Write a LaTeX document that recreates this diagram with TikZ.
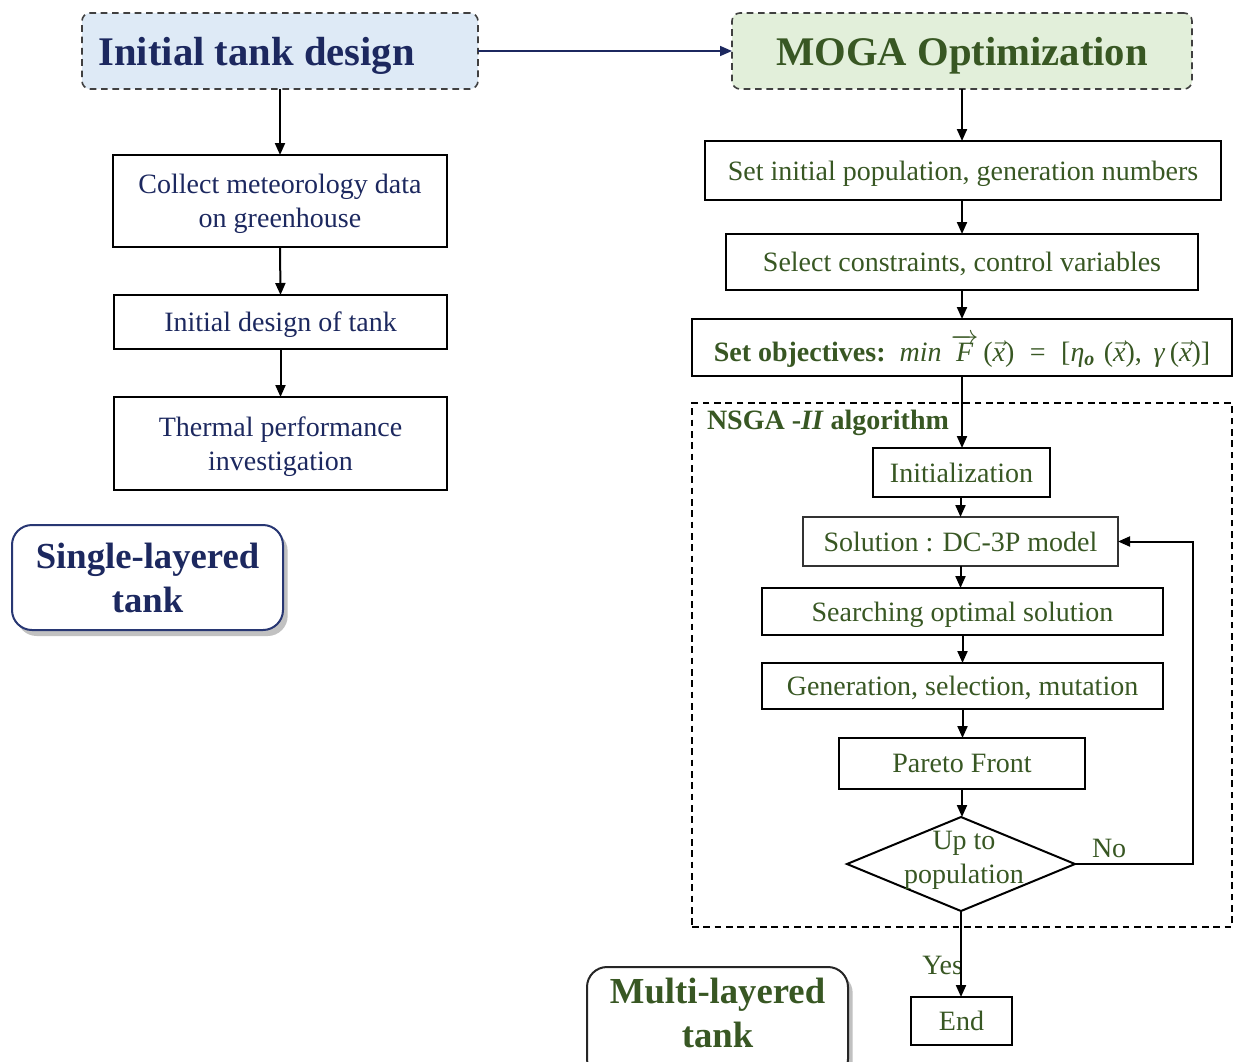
\documentclass[tikz,border=0pt]{standalone}
\usepackage{fontspec}
\setmainfont{Liberation Serif}
\usetikzlibrary{arrows.meta,shapes.geometric,shadows,calc}
\definecolor{navy}{RGB}{28,40,95}
\definecolor{dgreen}{RGB}{56,87,35}
\definecolor{lblue}{RGB}{222,234,246}
\definecolor{lgreen}{RGB}{226,239,218}
\definecolor{bordernavy}{RGB}{40,55,115}
\newcommand{\vx}{$\vec{\mbox{\itshape x}}$}
\begin{document}
\begin{tikzpicture}[x=0.75pt,y=-0.75pt,
 every node/.style={inner sep=0pt, outer sep=0pt},
 sz/.style 2 args={minimum width=#1*0.75pt, minimum height=#2*0.75pt},
 body/.style={font=\fontsize{21}{25.5}\selectfont},
 box/.style={draw=black, line width=1.5pt, body, align=center, text depth=0pt},
 lbox/.style={box, text=navy},
 rbox/.style={box, text=dgreen},
 title/.style={draw=black!75, dash pattern=on 5pt off 3.5pt, line width=1.2pt, rounded corners=6pt, text depth=0pt, font=\fontsize{30.5}{36}\selectfont\bfseries},
 flow/.style={line width=1.5pt, -{Triangle[length=9pt,width=7.5pt]}},
 tag/.style={rounded corners=15pt, line width=1.5pt, fill=white, drop shadow={shadow xshift=3.5pt, shadow yshift=-4.5pt, opacity=0.35, fill=black!70}, align=center, font=\fontsize{27.5}{33}\selectfont\bfseries},
 dashbox/.style={draw=black, line width=1.2pt, dash pattern=on 5pt off 3.5pt},
]
\useasboundingbox (0,0) rectangle (1234,1061);
\clip (0,0) rectangle (1234,1061);

% left column
\node[title, fill=lblue, text=navy, sz={396}{76}] (init) at (280,51) {Initial tank design\hspace*{35pt}};
\node[lbox, sz={334}{92}] (collect) at (280,201) {Collect meteorology data\\on greenhouse};
\node[lbox, sz={333}{54}] (design) at (280.5,322) {Initial design of tank};
\node[lbox, sz={333}{93}] (thermal) at (280.5,443.5) {Thermal performance\\investigation};
\node[tag, draw=bordernavy, text=navy, sz={271}{105}] (single) at (147.5,577.5) {Single-layered\\tank};

% right column
\node[title, fill=lgreen, text=dgreen, sz={460}{76}] (moga) at (962,51) {MOGA Optimization};
\node[rbox, sz={516}{59}] (setpop) at (963,170.5) {Set initial population, generation numbers};
\node[rbox, sz={472}{56}] (select) at (962,262) {Select constraints, control variables};
\node[rbox, sz={540}{57}] (obj) at (962,347.5) {\textbf{Set objectives:}\, \textit{min}\,\,$\overrightarrow{\mbox{\itshape F}}$\,(\vx)\;\;=\;\;[\textit{η}\raisebox{-0.35ex}{\fontsize{15}{15}\selectfont\bfseries\itshape o}\,\,(\vx),\, \textit{γ}\,(\vx)]};

\node[dashbox, sz={540}{524}] (nsga) at (962,665) {};
\node[body, font=\fontsize{21}{25.5}\selectfont\bfseries, text=dgreen, anchor=base west] (nsgalbl) at (707,429) {NSGA -\textit{II} algorithm};

\node[rbox, sz={177}{49}] (initz) at (961.5,472.5) {Initialization};
\node[rbox, line width=1.2pt, draw=black!80, sz={315}{49}] (sol) at (960.5,541.5) {Solution : DC-3P model};
\node[rbox, sz={401}{47}] (search) at (962.5,611.5) {Searching optimal solution};
\node[rbox, sz={401}{46}] (gen) at (962.5,686) {Generation, selection, mutation};
\node[rbox, sz={246}{51}] (pareto) at (962,763.5) {Pareto Front};
\node[draw=black, line width=1.5pt, diamond, sz={228}{94}] (diam) at (961,864) {};
\node[body, text=dgreen, align=center] (diamtxt) at (964,860) {Up to\\population};
\node[rbox, sz={101}{48}] (endb) at (961.5,1021) {End};
\node[body, text=dgreen, anchor=base east] (yes) at (963,974) {Yes};
\node[body, text=dgreen, anchor=base west] (no) at (1092,857) {No};
\coordinate (loop) at (1193,864);

\node[tag, draw=black!85, text=dgreen, text depth=15pt, sz={261}{112}] (multi) at (717.5,1023) {Multi-layered\\tank};

% connectors
\draw[flow, navy, line width=1.2pt] (init.east) -- (moga.west);
\draw[flow] (init.south) -- (collect.north);
\draw[flow] (collect.south) -- (design.north);
\draw[flow] (design.south) -- (thermal.north);
\draw[flow] (moga.south) -- (setpop.north -| moga.south);
\draw[flow] (setpop.south -| select.north) -- (select.north);
\draw[flow] (select.south) -- (obj.north);
\draw[flow] (obj.south) -- (initz.north -| obj.south);
\draw[flow] (initz.south -| sol.north) -- (sol.north);
\draw[flow] (sol.south) -- (search.north -| sol.south);
\draw[flow] (search.south) -- (gen.north);
\draw[flow] (gen.south) -- (pareto.north -| gen.south);
\draw[flow] (pareto.south) -- (diam.north -| pareto.south);
\draw[flow] (diam.east) -- (loop) |- (sol.east);
\draw[flow] (diam.south) -- (endb.north -| diam.south);
\end{tikzpicture}
\end{document}
